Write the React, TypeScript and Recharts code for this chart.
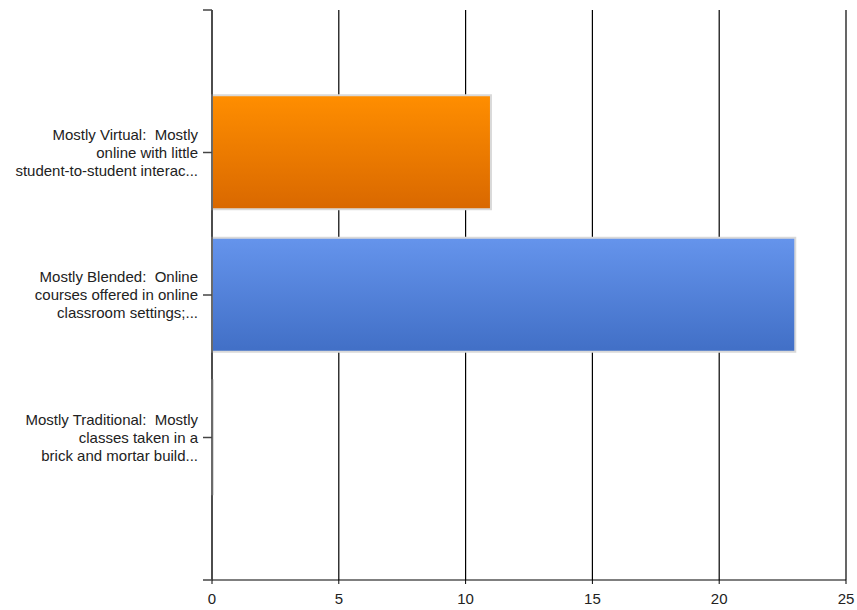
import React from "react";
import { Bar, BarChart, CartesianGrid, Cell, XAxis, YAxis } from "recharts";

const categories = [
  "Mostly Virtual:  Mostly\nonline with little\nstudent-to-student interac...",
  "Mostly Blended:  Online\ncourses offered in online\nclassroom settings;...",
  "Mostly Traditional:  Mostly\nclasses taken in a\nbrick and mortar build...",
];
const responses = [11, 23, 0];
const xTicks = [0, 5, 10, 15, 20, 25];

const gradients = [
  { id: "gOrange", top: "#FF8E00", bottom: "#D96800" },
  { id: "gBlue", top: "#6594EC", bottom: "#416FC6" },
  { id: "gGray", top: "#D8D8D8", bottom: "#D8D8D8" },
];

const data = categories.map((label, i) => ({ pos: i + 1, label, value: responses[i] }));

const FONT = "'Liberation Sans', Arial, sans-serif";

function CategoryTick(props: any) {
  const { x, y, payload } = props;
  const label = categories[payload.value - 1];
  if (!label) return null;
  const lines = label.split("\n");
  const lh = 18;
  const start = -((lines.length - 1) * lh) / 2;
  return (
    <text x={x} y={y} textAnchor="end" fontSize={15} fill="#222" fontFamily={FONT} style={{ whiteSpace: "pre" }}>
      {lines.map((ln: string, i: number) => (
        <tspan key={i} x={x} y={y + start + i * lh} dy="0.35em">
          {ln}
        </tspan>
      ))}
    </text>
  );
}

export default function App() {
  return (
    <div style={{ position: "absolute", left: 0, top: 0, width: 857, height: 610, background: "#fff" }}>
      <BarChart
        width={857}
        height={610}
        data={data}
        layout="vertical"
        margin={{ top: 10, right: 11, bottom: 0, left: 0 }}
      >
        <defs>
          {gradients.map((g) => (
            <linearGradient key={g.id} id={g.id} x1="0" y1="0" x2="0" y2="1">
              <stop offset="0%" stopColor={g.top} />
              <stop offset="100%" stopColor={g.bottom} />
            </linearGradient>
          ))}
        </defs>
        <CartesianGrid horizontal={false} stroke="#000" strokeWidth={1.2} />
        <XAxis
          type="number"
          domain={[0, 25]}
          ticks={xTicks}
          interval={0}
          height={30}
          tickSize={4}
          tickMargin={9}
          axisLine={{ stroke: "#000", strokeWidth: 1.2 }}
          tickLine={{ stroke: "#000" }}
          tick={{ fontSize: 15, fill: "#222", fontFamily: FONT }}
        />
        <YAxis
          type="number"
          dataKey="pos"
          domain={[0, 4]}
          ticks={[0, 1, 2, 3, 4]}
          interval={0}
          width={212}
          tickSize={9}
          tickMargin={5}
          axisLine={{ stroke: "#444", strokeWidth: 1.5 }}
          tickLine={{ stroke: "#444", strokeWidth: 1.5 }}
          tick={<CategoryTick />}
        />
        <Bar
          dataKey="value"
          barSize={114}
          minPointSize={1}
          stroke="#D9D9D9"
          strokeWidth={2}
          isAnimationActive={false}
        >
          {data.map((d, i) => (
            <Cell key={d.label} fill={`url(#${gradients[i].id})`} />
          ))}
        </Bar>
      </BarChart>
    </div>
  );
}
